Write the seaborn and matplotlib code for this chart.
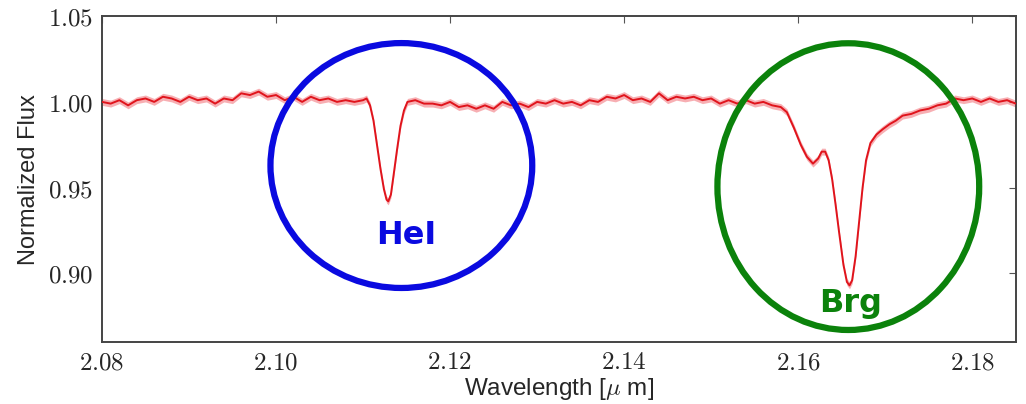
import numpy as np
import pandas as pd
import matplotlib
matplotlib.use("Agg")
import matplotlib.pyplot as plt
from matplotlib.patches import Ellipse
from matplotlib.ticker import FixedLocator, FuncFormatter
import seaborn as sns

# ---------------- data ----------------
wavelength = [
    2.080, 2.081, 2.082, 2.083, 2.084, 2.085, 2.086, 2.087, 2.088, 2.089,
    2.090, 2.091, 2.092, 2.093, 2.094, 2.095, 2.096, 2.097, 2.098, 2.099,
    2.100, 2.101, 2.102, 2.103, 2.104, 2.105, 2.106, 2.107, 2.108, 2.109,
    2.110, 2.1104, 2.1108, 2.1112, 2.1116, 2.1120, 2.1124, 2.1127, 2.1129,
    2.1132, 2.1135, 2.1139, 2.1143, 2.1147, 2.1151,
    2.116, 2.117, 2.118, 2.119, 2.120, 2.121, 2.122,
    2.123, 2.124, 2.125, 2.126, 2.127, 2.128, 2.129, 2.130, 2.131, 2.132,
    2.133, 2.134, 2.135, 2.136, 2.137, 2.138, 2.139, 2.140, 2.141, 2.142,
    2.143, 2.144, 2.145, 2.146, 2.147, 2.148, 2.149, 2.150, 2.151, 2.152,
    2.153, 2.154, 2.155, 2.156, 2.157, 2.158, 2.1587, 2.1595, 2.1603, 2.1610,
    2.1617, 2.1623, 2.1627, 2.1631, 2.1635, 2.1639, 2.1643, 2.1647, 2.1652,
    2.1656, 2.1659, 2.1662, 2.1666, 2.1670, 2.1674, 2.1678, 2.1683, 2.1690,
    2.1697, 2.1705, 2.1712, 2.172,
    2.173, 2.174, 2.175, 2.176, 2.177, 2.178, 2.179, 2.180, 2.181, 2.182,
    2.183, 2.184, 2.185,
]
flux = [
    1.000, 0.999, 1.001, 0.998, 1.001, 1.002, 1.000, 1.003, 1.002, 1.000,
    1.003, 1.001, 1.002, 0.999, 1.002, 1.001, 1.005, 1.004, 1.006, 1.003,
    1.004, 1.001, 1.003, 1.000, 1.003, 1.001, 1.002, 1.000, 1.001, 1.000,
    1.001, 1.002, 0.998, 0.989, 0.975, 0.961, 0.949, 0.943, 0.942,
    0.946, 0.957, 0.972, 0.986, 0.995, 1.000,
    1.001, 0.999, 0.999, 0.998, 1.000, 0.997, 0.998,
    0.996, 0.998, 0.996, 1.000, 0.998, 0.999, 0.997, 1.000, 0.999, 1.001,
    0.999, 1.000, 0.998, 1.001, 1.000, 1.003, 1.002, 1.004, 1.001, 1.002,
    1.000, 1.005, 1.001, 1.003, 1.002, 1.003, 1.001, 1.002, 0.999, 1.001,
    0.999, 1.001, 0.999, 1.000, 0.998, 0.997, 0.994, 0.985, 0.975, 0.968,
    0.964, 0.967, 0.971, 0.971, 0.966, 0.955, 0.940, 0.924, 0.905,
    0.895, 0.893, 0.896, 0.910, 0.930, 0.950, 0.966, 0.976, 0.981,
    0.984, 0.987, 0.989, 0.992,
    0.993, 0.995, 0.996, 0.998, 0.999, 1.002, 1.001, 1.002, 1.000, 1.002,
    1.000, 1.001, 0.999,
]
flux_err = 0.002

x_ticks = [2.08, 2.10, 2.12, 2.14, 2.16, 2.18]
y_ticks = [0.90, 0.95, 1.00, 1.05]

line_labels = ["HeI", "Brg"]
line_label_pos = [(2.1150, 0.917), (2.1660, 0.8775)]
ellipse_centers = [(2.1144, 0.9629), (2.16576, 0.9506)]
ellipse_sizes = [(0.03008, 0.1428), (0.03008, 0.1672)]
highlight_colors = ["#0a0ae0", "#0b820b"]

# ---------------- plot ----------------
sns.set_style("white")
plt.rcParams["mathtext.fontset"] = "cm"
plt.rcParams["font.family"] = ["Liberation Sans", "DejaVu Sans"]

df = pd.DataFrame({"wavelength": wavelength, "flux": flux})

fig = plt.figure(figsize=(10.26, 4.04), dpi=100)
ax = fig.add_axes([0.0994, 0.1535, 0.8906, 0.8065])

f = np.array(flux)
ax.fill_between(wavelength, f - flux_err, f + flux_err,
                color="#f06068", alpha=0.5, lw=0, zorder=2)
sns.lineplot(data=df, x="wavelength", y="flux", ax=ax, color="#e0141c",
             lw=1.4, zorder=3)

for (cx, cy), (w, h), c in zip(ellipse_centers, ellipse_sizes, highlight_colors):
    ax.add_patch(Ellipse((cx, cy), w, h, fill=False, edgecolor=c, lw=4.5,
                         zorder=4))

for lab, (tx, ty), c in zip(line_labels, line_label_pos, highlight_colors):
    ax.text(tx, ty, lab, color=c, fontsize=23, fontweight="bold",
            family="DejaVu Sans", ha="center", va="baseline", zorder=5)

ax.set_xlim(2.08, 2.185)
ax.set_ylim(0.86, 1.05)
ax.xaxis.set_major_locator(FixedLocator(x_ticks))
ax.yaxis.set_major_locator(FixedLocator(y_ticks))
ax.xaxis.set_major_formatter(FuncFormatter(lambda v, p: f"${v:.2f}$"))
ax.yaxis.set_major_formatter(FuncFormatter(lambda v, p: f"${v:.2f}$"))
ax.tick_params(direction="in", top=True, right=True, length=5, width=0.8,
               color="#555555", labelsize=18, pad=6)
for s in ax.spines.values():
    s.set_color("#444444")
    s.set_linewidth(1.4)

ax.set_xlabel("Wavelength [$\\mu$ m]", fontsize=17.5, labelpad=1)
ax.set_ylabel("Normalized Flux", fontsize=17, labelpad=6)

fig.savefig("out.png", dpi=100)
